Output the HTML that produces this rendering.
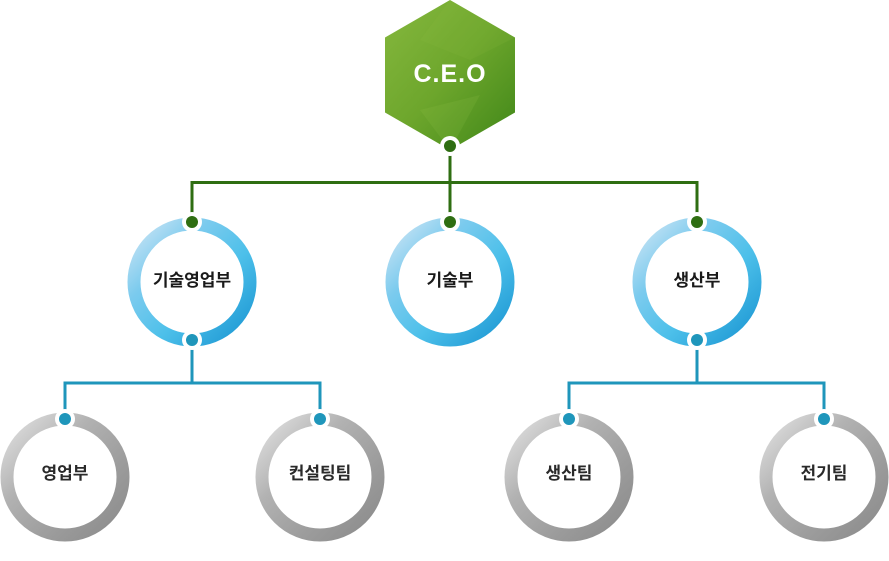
<!DOCTYPE html>
<html><head><meta charset="utf-8">
<style>
html,body{margin:0;padding:0;background:#fff;}
svg{display:block;}
.t{font-family:"Liberation Sans","Noto Sans CJK KR",sans-serif;font-weight:bold;font-size:17px;fill:#1a1a1a;text-anchor:middle;}
.t3{fill:#2a2a2a;}
</style></head><body>
<svg width="889" height="561" viewBox="0 0 889 561" xmlns="http://www.w3.org/2000/svg">
<defs>
<linearGradient id="hex" x1="0" y1="0" x2="1" y2="1">
<stop offset="0" stop-color="#86b83e"/>
<stop offset="0.5" stop-color="#6da62c"/>
<stop offset="1" stop-color="#3f8618"/>
</linearGradient>
<linearGradient id="blue" x1="0" y1="0" x2="1" y2="1">
<stop offset="0" stop-color="#cfe6f5"/>
<stop offset="0.3" stop-color="#7ccbee"/>
<stop offset="0.6" stop-color="#4dc0ea"/>
<stop offset="1" stop-color="#1a95d2"/>
</linearGradient>
<linearGradient id="gray" x1="0" y1="0" x2="1" y2="1">
<stop offset="0" stop-color="#e2e2e2"/>
<stop offset="0.35" stop-color="#b2b2b2"/>
<stop offset="0.7" stop-color="#9b9b9b"/>
<stop offset="1" stop-color="#8a8a8a"/>
</linearGradient>
</defs>

<!-- CEO hexagon -->
<polygon points="450,0 515,37.5 515,112.5 450,150 385,112.5 385,37.5" fill="url(#hex)"/>
<polygon points="450,0 515,37.5 470,60 420,40" fill="#8fbf45" opacity="0.15"/>
<polygon points="420,110 480,95 450,150" fill="#9ac850" opacity="0.15"/>
<text x="450" y="82" font-family="Liberation Sans, sans-serif" font-weight="bold" font-size="25" fill="#fff" text-anchor="middle" letter-spacing="1">C.E.O</text>

<!-- green connectors -->
<g stroke="#2f6e12" stroke-width="3" fill="none">
<line x1="450" y1="146" x2="450" y2="222"/>
<line x1="192" y1="182.5" x2="697" y2="182.5"/>
<line x1="192" y1="181" x2="192" y2="222"/>
<line x1="697" y1="181" x2="697" y2="222"/>
</g>
<circle cx="450" cy="146" r="10" fill="#fff"/>
<circle cx="450" cy="146" r="6" fill="#2f6e12"/>

<!-- blue connectors -->
<g stroke="#1f96bb" stroke-width="3" fill="none">
<line x1="192" y1="340" x2="192" y2="384"/>
<line x1="65" y1="383" x2="320" y2="383"/>
<line x1="65" y1="381.5" x2="65" y2="419"/>
<line x1="320" y1="381.5" x2="320" y2="419"/>
<line x1="697" y1="340" x2="697" y2="384"/>
<line x1="569" y1="383" x2="824" y2="383"/>
<line x1="569" y1="381.5" x2="569" y2="419"/>
<line x1="824" y1="381.5" x2="824" y2="419"/>
</g>

<!-- level 2 rings -->
<g>
<circle cx="192" cy="282" r="58" fill="#fff" stroke="url(#blue)" stroke-width="13"/>
<circle cx="450" cy="282" r="58" fill="#fff" stroke="url(#blue)" stroke-width="13"/>
<circle cx="697" cy="282" r="58" fill="#fff" stroke="url(#blue)" stroke-width="13"/>
</g>
<g>
<circle cx="192" cy="222" r="10" fill="#fff"/><circle cx="192" cy="222" r="6" fill="#2f6e12"/>
<circle cx="450" cy="222" r="10" fill="#fff"/><circle cx="450" cy="222" r="6" fill="#2f6e12"/>
<circle cx="697" cy="222" r="10" fill="#fff"/><circle cx="697" cy="222" r="6" fill="#2f6e12"/>
</g>
<g>
<circle cx="192" cy="340" r="10" fill="#fff"/><circle cx="192" cy="340" r="6" fill="#1f96bb"/>
<circle cx="697" cy="340" r="10" fill="#fff"/><circle cx="697" cy="340" r="6" fill="#1f96bb"/>
</g>
<text class="t" x="192" y="286">기술영업부</text>
<text class="t" x="450" y="286">기술부</text>
<text class="t" x="697" y="286">생산부</text>

<!-- level 3 rings -->
<g>
<circle cx="65" cy="477" r="58" fill="#fff" stroke="url(#gray)" stroke-width="13"/>
<circle cx="320" cy="477" r="58" fill="#fff" stroke="url(#gray)" stroke-width="13"/>
<circle cx="569" cy="477" r="58" fill="#fff" stroke="url(#gray)" stroke-width="13"/>
<circle cx="824" cy="477" r="58" fill="#fff" stroke="url(#gray)" stroke-width="13"/>
</g>
<g>
<circle cx="65" cy="419" r="10" fill="#fff"/><circle cx="65" cy="419" r="6" fill="#1f96bb"/>
<circle cx="320" cy="419" r="10" fill="#fff"/><circle cx="320" cy="419" r="6" fill="#1f96bb"/>
<circle cx="569" cy="419" r="10" fill="#fff"/><circle cx="569" cy="419" r="6" fill="#1f96bb"/>
<circle cx="824" cy="419" r="10" fill="#fff"/><circle cx="824" cy="419" r="6" fill="#1f96bb"/>
</g>
<text class="t t3" x="65" y="479">영업부</text>
<text class="t t3" x="320" y="479">컨설팅팀</text>
<text class="t t3" x="569" y="479">생산팀</text>
<text class="t t3" x="824" y="479">전기팀</text>
</svg>
</body></html>
